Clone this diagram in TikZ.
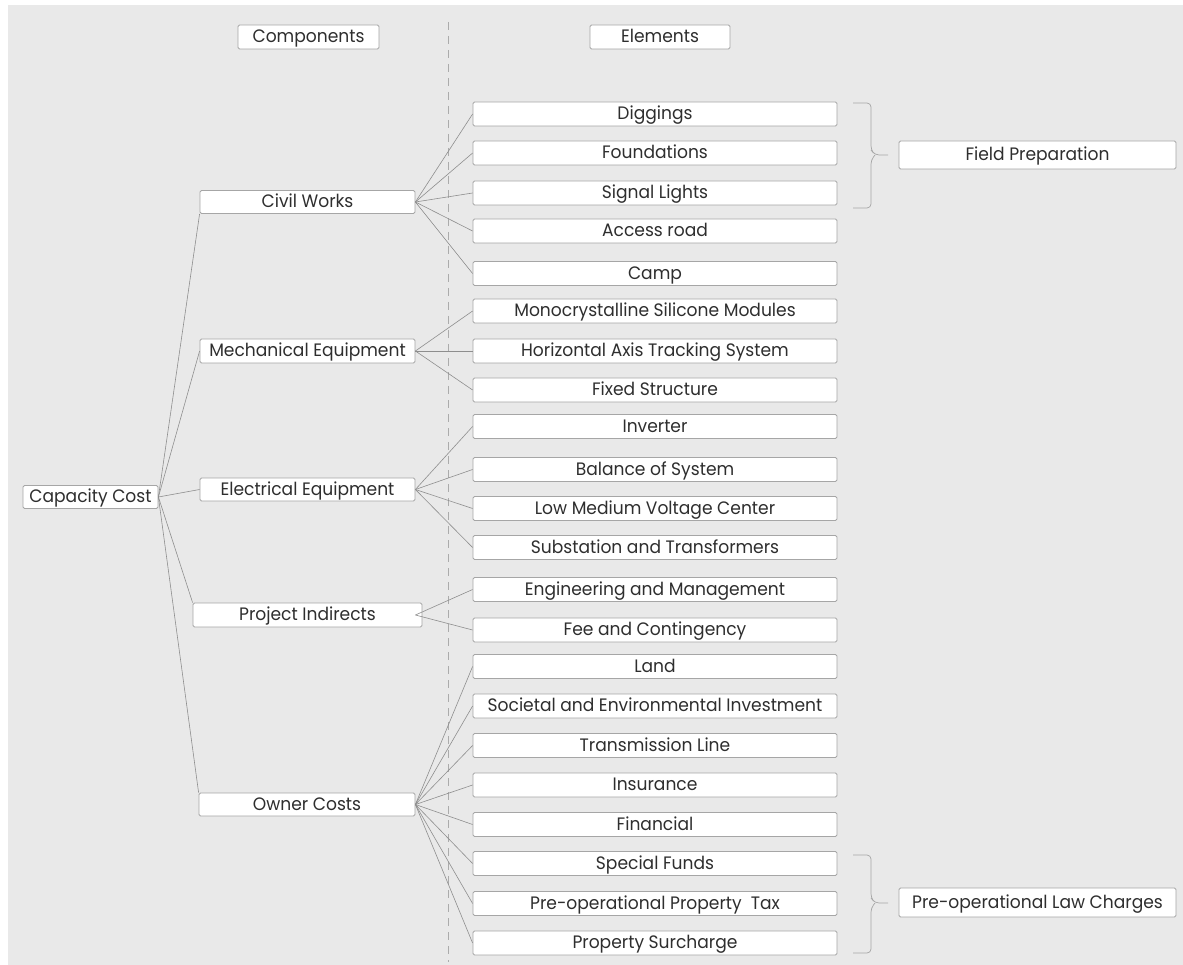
\documentclass[tikz,border=0pt]{standalone}
\usepackage{fontspec}
\setmainfont{Poppins}[FakeStretch=0.95]
\definecolor{bggray}{HTML}{E9E9E9}
\definecolor{boxline}{HTML}{A6A6A6}
\definecolor{conn}{HTML}{8E8E8E}
\definecolor{txt}{HTML}{2E2E2E}
\definecolor{dashc}{HTML}{ABABAB}
\tikzset{
  box/.style={draw=boxline, fill=white, rounded corners=1.5pt, line width=0.8pt,
    inner sep=0pt, text=txt, font=\fontsize{18}{21}\selectfont, anchor=center,
    text height=12.6pt, text depth=1pt},
  elembox/.style={box, minimum width=364pt, minimum height=24pt},
  compbox/.style={box, minimum width=215pt, minimum height=23pt},
  sidebox/.style={box, minimum width=277pt, minimum height=28pt},
  conline/.style={draw=conn, line width=0.6pt},
  bracel/.style={draw=conn!80, line width=0.7pt, rounded corners=4pt}
}
\begin{document}
\begin{tikzpicture}[x=1pt,y=-1pt]
\useasboundingbox (0,0) rectangle (1183,965);
\fill[bggray] (8,5) rectangle (1183,965);
\coordinate (dtop) at (448,22);
\coordinate (dbot) at (448,962);
\draw[dashc, line width=0.8pt, dash pattern=on 8pt off 6pt] (dtop) -- (dbot);

% headers
\node[box, minimum width=141pt, minimum height=24pt] (comp) at (308.5,37) {Components};
\node[box, minimum width=140pt, minimum height=24pt] (elem) at (660,37) {Elements};

% root and components
\node[box, minimum width=135pt, minimum height=23pt] (cc) at (90.5,497) {Capacity Cost};
\node[compbox] (cw) at (307.5,202) {Civil Works};
\node[compbox, minimum height=24pt] (me) at (307.5,351) {Mechanical Equipment};
\node[compbox] (ee) at (307.5,489.5) {Electrical Equipment};
\node[compbox, minimum width=229pt, minimum height=24pt] (pi) at (307.5,615) {Project Indirects};
\node[compbox, minimum width=216pt] (oc) at (307,804.5) {Owner Costs};

% elements
\node[elembox] (e1) at (655,114) {Diggings};
\node[elembox] (e2) at (655,153) {Foundations};
\node[elembox] (e3) at (655,193) {Signal Lights};
\node[elembox] (e4) at (655,231) {Access road};
\node[elembox] (e5) at (655,273.5) {Camp};
\node[elembox] (e6) at (655,311) {Monocrystalline Silicone Modules};
\node[elembox] (e7) at (655,351) {Horizontal Axis Tracking System};
\node[elembox] (e8) at (655,390) {Fixed Structure};
\node[elembox] (e9) at (655,426.5) {Inverter};
\node[elembox] (e10) at (655,469.5) {Balance of System};
\node[elembox] (e11) at (655,508.5) {Low Medium Voltage Center};
\node[elembox] (e12) at (655,547.5) {Substation and Transformers};
\node[elembox] (e13) at (655,589.5) {Engineering and Management};
\node[elembox] (e14) at (655,630) {Fee and Contingency};
\node[elembox] (e15) at (655,666.5) {Land};
\node[elembox] (e16) at (655,706) {Societal and Environmental Investment};
\node[elembox] (e17) at (655,745.5) {Transmission Line};
\node[elembox] (e18) at (655,785) {Insurance};
\node[elembox] (e19) at (655,824.5) {Financial};
\node[elembox] (e20) at (655,863.5) {Special Funds};
\node[elembox] (e21) at (655,903.5) {Pre-operational Property\ \ Tax};
\node[elembox] (e22) at (655,943) {Property Surcharge};

% side groups
\node[sidebox] (fp) at (1037.5,155) {Field Preparation};
\node[sidebox, minimum height=29pt] (plc) at (1037.5,902.5) {Pre-operational Law Charges};

% root connectors
\draw[conline] (cc.east) -- (cw.south west);
\draw[conline] (cc.east) -- (me.west);
\draw[conline] (cc.east) -- (ee.west);
\draw[conline] (cc.east) -- (pi.north west);
\draw[conline] (cc.east) -- (oc.north west);

% component connectors
\foreach \i in {1,...,5} \draw[conline] (cw.east) -- (e\i.west);
\foreach \i in {6,7,8} \draw[conline] (me.east) -- (e\i.west);
\foreach \i in {9,...,12} \draw[conline] (ee.east) -- (e\i.west);
\coordinate (pio) at ([xshift=-7pt]pi.east);
\foreach \i in {13,14} \draw[conline] (pio) -- (e\i.west);
\foreach \i in {15,...,22} \draw[conline] (oc.east) -- (e\i.west);

% braces
\coordinate (b1t) at (853,103);
\coordinate (b1b) at (853,208);
\coordinate (b1m) at (888,155);
\draw[bracel] (b1t) -- (871,103) -- (871,150) -- (875,155) -- (b1m);
\draw[bracel] (b1b) -- (871,208) -- (871,160) -- (875,155);
\coordinate (b2t) at (853,855);
\coordinate (b2b) at (853,953);
\coordinate (b2m) at (888,903);
\draw[bracel] (b2t) -- (871,855) -- (871,898) -- (875,903) -- (b2m);
\draw[bracel] (b2b) -- (871,953) -- (871,908) -- (875,903);
\end{tikzpicture}
\end{document}
